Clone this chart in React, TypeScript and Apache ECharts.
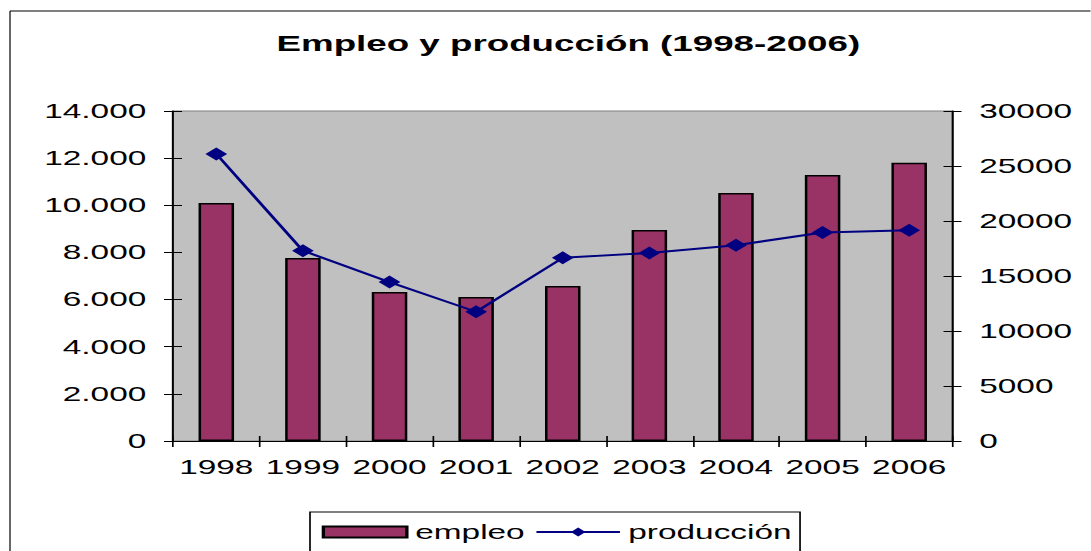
import React, { useEffect, useRef } from "react";
import * as echarts from "echarts";

const years = ["1998", "1999", "2000", "2001", "2002", "2003", "2004", "2005", "2006"];
const empleo = [10100, 7760, 6320, 6110, 6580, 8950, 10520, 11290, 11800];
const produccion = [26100, 17300, 14450, 11750, 16650, 17100, 17800, 18950, 19150];
const leftTicks = { min: 0, max: 14000, interval: 2000 };
const rightTicks = { min: 0, max: 30000, interval: 5000 };

const K = 1.67;
const FULL_W = 1091;
const FULL_H = 551;
const W = FULL_W / K;
const FONT = "'Liberation Sans', Arial, sans-serif";

function fmtThousands(v: number): string {
  return String(Math.round(v)).replace(/\B(?=(\d{3})+(?!\d))/g, ".");
}

export default function App() {
  const ref = useRef<HTMLDivElement>(null);
  useEffect(() => {
    if (!ref.current) return;
    const chart = echarts.init(ref.current, null, { renderer: "svg" });
    const gridLeft = 173 / K;
    const gridRight = (FULL_W - 953) / K;
    const tickLen = 9 / K;
    chart.setOption({
      animation: false,
      textStyle: { fontFamily: FONT },
      title: {
        text: "Empleo y producción (1998-2006)",
        left: 560 / K,
        textAlign: "center",
        top: 27,
        textStyle: { fontFamily: FONT, fontSize: 22, fontWeight: "bold", color: "#000" },
      },
      graphic: [
        { type: "line", shape: { x1: 10 / K, y1: 11, x2: 10 / K, y2: FULL_H }, style: { stroke: "#000", lineWidth: 1.2 / K } },
        { type: "line", shape: { x1: 10 / K, y1: 11, x2: W, y2: 11 }, style: { stroke: "#000", lineWidth: 1.2 } },
      ],
      legend: {
        left: 310 / K,
        top: 512,
        padding: [10, 5, 20, 7],
        itemGap: 6,
        itemWidth: 50,
        itemHeight: 11,
        borderColor: "#000",
        borderWidth: 1,
        backgroundColor: "#fff",
        textStyle: { fontFamily: FONT, fontSize: 20, color: "#000" },
        data: [
          { name: "empleo", icon: "rect" },
          { name: "producción" },
        ],
      },
      grid: {
        left: gridLeft,
        right: gridRight,
        top: 111,
        bottom: FULL_H - 441,
        show: true,
        backgroundColor: "#C0C0C0",
        borderColor: "#808080",
        borderWidth: 1,
        containLabel: false,
      },
      xAxis: [
        {
          type: "category",
          data: years,
          position: "bottom",
          axisLine: { lineStyle: { color: "#000", width: 1 } },
          axisTick: { show: true, inside: false, length: 6, interval: 0, lineStyle: { color: "#000" } },
          axisLabel: { fontFamily: FONT, fontSize: 20, color: "#000", margin: 16, interval: 0 },
          splitLine: { show: false },
        },
        {
          type: "category",
          data: years,
          position: "bottom",
          axisLine: { show: false },
          axisTick: { show: true, inside: true, length: 5, interval: 0, lineStyle: { color: "#000" } },
          axisLabel: { show: false },
          splitLine: { show: false },
        },
      ],
      yAxis: [
        {
          type: "value",
          position: "left",
          ...leftTicks,
          axisLine: { show: true, lineStyle: { color: "#000", width: 1.2 } },
          axisTick: { show: true, inside: false, length: tickLen, lineStyle: { color: "#000" } },
          axisLabel: { fontFamily: FONT, fontSize: 20, color: "#000", margin: 16, formatter: (v: number) => fmtThousands(v) },
          splitLine: { show: false },
        },
        {
          type: "value",
          position: "right",
          ...rightTicks,
          axisLine: { show: true, lineStyle: { color: "#000", width: 1.2 } },
          axisTick: { show: true, inside: false, length: tickLen, lineStyle: { color: "#000" } },
          axisLabel: { fontFamily: FONT, fontSize: 20, color: "#000", margin: 16, formatter: (v: number) => String(v) },
          splitLine: { show: false },
        },
        {
          type: "value",
          position: "left",
          ...leftTicks,
          axisLine: { show: false },
          axisTick: { show: true, inside: true, length: tickLen, lineStyle: { color: "#000" } },
          axisLabel: { show: false },
          splitLine: { show: false },
        },
        {
          type: "value",
          position: "right",
          ...rightTicks,
          axisLine: { show: false },
          axisTick: { show: true, inside: true, length: tickLen, lineStyle: { color: "#000" } },
          axisLabel: { show: false },
          splitLine: { show: false },
        },
      ],
      series: [
        {
          name: "empleo",
          type: "bar",
          xAxisIndex: 0,
          yAxisIndex: 0,
          data: empleo,
          barWidth: "41%",
          itemStyle: { color: "#993366", borderColor: "#000", borderWidth: 1.5 },
        },
        {
          name: "producción",
          type: "line",
          xAxisIndex: 0,
          yAxisIndex: 1,
          data: produccion,
          symbol: "diamond",
          symbolSize: [13, 13],
          lineStyle: { color: "#000080", width: 2 },
          itemStyle: { color: "#000080" },
        },
      ],
    });
    return () => chart.dispose();
  }, []);
  return (
    <div
      ref={ref}
      style={{
        position: "absolute",
        left: 0,
        top: 0,
        width: `${W}px`,
        height: `${FULL_H}px`,
        transform: `scaleX(${K})`,
        transformOrigin: "0 0",
      }}
    />
  );
}
